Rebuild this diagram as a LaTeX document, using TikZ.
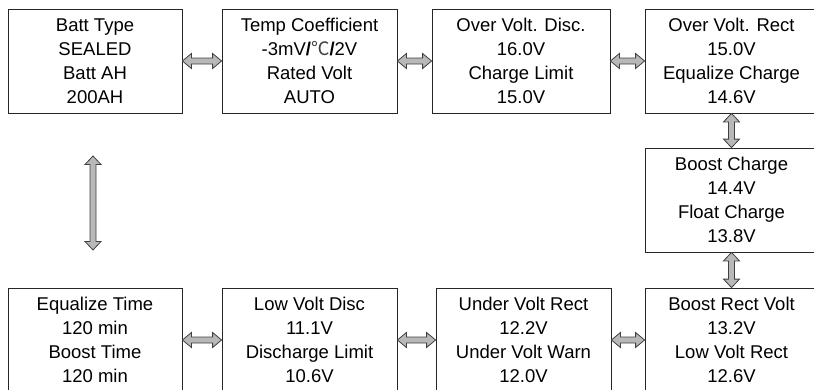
\documentclass[tikz,border=0pt]{standalone}
\usepackage{fontspec}
\setmainfont{Liberation Sans}
\newfontfamily\cjk{Noto Sans CJK SC}
\usetikzlibrary{calc}
\tikzset{
  box/.style={draw=black!85, line width=0.8pt, minimum height=104pt, align=center,
    inner sep=0pt, font=\fontsize{18.5}{24}\selectfont, text=black},
  fatarr/.style={draw=black!75, fill=black!28, line width=0.8pt, line join=miter}
}
\newcommand\harrow[2]{\draw[fatarr] let \p1=(#1), \p2=(#2) in
  (\x1,\y1) -- ++(9pt,7.5pt) -- ++(0pt,-4.5pt) -- (\x2-9pt,\y1+3pt) -- ++(0pt,4.5pt)
  -- (\x2,\y1) -- ++(-9pt,-7.5pt) -- ++(0pt,4.5pt) -- (\x1+9pt,\y1-3pt) -- ++(0pt,-4.5pt) -- cycle;}
\newcommand\varrow[2]{\draw[fatarr] let \p1=(#1), \p2=(#2) in
  (\x1,\y1) -- ++(8pt,-8.5pt) -- ++(-5pt,0pt) -- (\x1+3pt,\y2+8.5pt) -- ++(5pt,0pt)
  -- (\x1,\y2) -- ++(-8pt,8.5pt) -- ++(5pt,0pt) -- (\x1-3pt,\y1-8.5pt) -- ++(-5pt,0pt) -- cycle;}
\begin{document}
\begin{tikzpicture}[x=1pt,y=-1pt]
\useasboundingbox (0,0) rectangle (814,389);
\clip (0,0) rectangle (814,389);
% top row
\node[box, minimum width=174pt] (t1) at (95,61) {Batt Type\\SEALED\\Batt AH\\200AH};
\node[box, minimum width=175pt] (t2) at (309.5,61) {Temp Coefficient\\-3mV{\bfseries /}{\cjk\color{black!75}℃}{\bfseries /}2V\\Rated Volt\\AUTO};
\node[box, minimum width=178pt] (t3) at (521,61) {Over Volt. Disc.\\16.0V\\Charge Limit\\15.0V};
\node[box, minimum width=173pt] (t4) at (731.5,61) {Over Volt. Rect\\15.0V\\Equalize Charge\\14.6V};
% middle
\node[box, minimum width=173pt] (m4) at (731.5,200) {Boost Charge\\14.4V\\Float Charge\\13.8V};
% bottom row
\node[box, minimum width=174pt] (b1) at (95,340) {Equalize Time\\120 min\\Boost Time\\120 min};
\node[box, minimum width=175pt] (b2) at (309.5,340) {Low Volt Disc\\11.1V\\Discharge Limit\\10.6V};
\node[box, minimum width=175pt] (b3) at (523.5,340) {Under Volt Rect\\12.2V\\Under Volt Warn\\12.0V};
\node[box, minimum width=173pt] (b4) at (731.5,340) {Boost Rect Volt\\13.2V\\Low Volt Rect\\12.6V};
% arrows
\harrow{t1.east}{t2.west}
\harrow{t2.east}{t3.west}
\harrow{t3.east}{t4.west}
\varrow{t4.south}{m4.north}
\varrow{m4.south}{b4.north}
\harrow{b1.east}{b2.west}
\harrow{b2.east}{b3.west}
\harrow{b3.east}{b4.west}
\coordinate (lvA) at (93,156);
\coordinate (lvB) at (93,250);
\varrow{lvA}{lvB}
\end{tikzpicture}
\end{document}
